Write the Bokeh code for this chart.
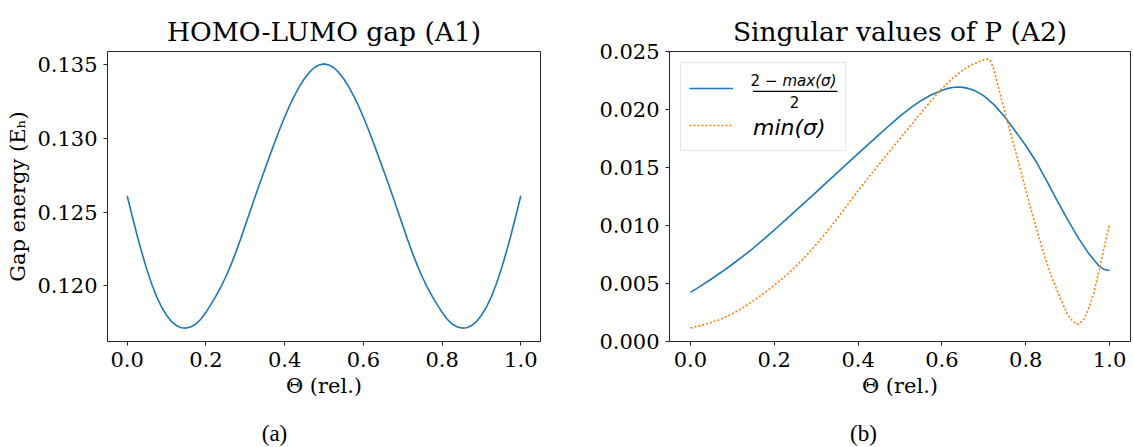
from bokeh.plotting import figure
from bokeh.models import (Range1d, FixedTicker, NumeralTickFormatter, Legend, LegendItem,
                          Label, BoxAnnotation)
from bokeh.layouts import row, column
from bokeh.core.properties import value
from bokeh.embed import file_html
from bokeh.resources import INLINE

# ---------------- data ----------------
theta_gap = [0.0000, 0.0125, 0.0250, 0.0375, 0.0500, 0.0625, 0.0750, 0.0875, 0.1000, 0.1125,
             0.1250, 0.1375, 0.1500, 0.1625, 0.1750, 0.1875, 0.2000, 0.2125, 0.2250, 0.2375,
             0.2500, 0.2625, 0.2750, 0.2875, 0.3000, 0.3125, 0.3250, 0.3375, 0.3500, 0.3625,
             0.3750, 0.3875, 0.4000, 0.4125, 0.4250, 0.4375, 0.4500, 0.4625, 0.4750, 0.4875,
             0.5000, 0.5125, 0.5250, 0.5375, 0.5500, 0.5625, 0.5750, 0.5875, 0.6000, 0.6125,
             0.6250, 0.6375, 0.6500, 0.6625, 0.6750, 0.6875, 0.7000, 0.7125, 0.7250, 0.7375,
             0.7500, 0.7625, 0.7750, 0.7875, 0.8000, 0.8125, 0.8250, 0.8375, 0.8500, 0.8625,
             0.8750, 0.8875, 0.9000, 0.9125, 0.9250, 0.9375, 0.9500, 0.9625, 0.9750, 0.9875, 1.0000]
gap_energy = [0.12611, 0.12475, 0.12345, 0.12222, 0.12110, 0.12010, 0.11925, 0.11855, 0.11800, 0.11758,
              0.11730, 0.11715, 0.11713, 0.11722, 0.11742, 0.11775, 0.11820, 0.11872, 0.11928, 0.11990,
              0.12058, 0.12135, 0.12220, 0.12312, 0.12410, 0.12508, 0.12605, 0.12700, 0.12793, 0.12885,
              0.12975, 0.13062, 0.13145, 0.13222, 0.13290, 0.13352, 0.13405, 0.13448, 0.13480, 0.13499,
              0.13506, 0.13499, 0.13480, 0.13448, 0.13405, 0.13352, 0.13290, 0.13222, 0.13145, 0.13062,
              0.12975, 0.12885, 0.12793, 0.12700, 0.12605, 0.12508, 0.12410, 0.12312, 0.12220, 0.12135,
              0.12058, 0.11990, 0.11928, 0.11872, 0.11820, 0.11775, 0.11742, 0.11722, 0.11713, 0.11715,
              0.11730, 0.11758, 0.11800, 0.11855, 0.11925, 0.12010, 0.12110, 0.12222, 0.12345, 0.12475, 0.12611]

theta_max = [0.000, 0.025, 0.050, 0.075, 0.100, 0.125, 0.150, 0.175, 0.200, 0.225,
             0.250, 0.275, 0.300, 0.325, 0.350, 0.375, 0.400, 0.425, 0.450, 0.475,
             0.500, 0.525, 0.550, 0.575, 0.600, 0.6125, 0.625, 0.6375, 0.650, 0.6625, 0.675, 0.6875,
             0.700, 0.725, 0.750, 0.775, 0.800, 0.825, 0.850, 0.875, 0.900, 0.925, 0.950, 0.975,
             0.9875, 1.000]
sigma_max_term = [0.00424, 0.00480, 0.00539, 0.00601, 0.00666, 0.00734, 0.00806, 0.00882, 0.00961, 0.01042,
                  0.01124, 0.01206, 0.01288, 0.01371, 0.01454, 0.01537, 0.01620, 0.01702, 0.01784, 0.01864,
                  0.01942, 0.02014, 0.02076, 0.02127, 0.02164, 0.02180, 0.02190, 0.02194, 0.02191, 0.02182,
                  0.02167, 0.02145, 0.02117, 0.02040, 0.01935, 0.01815, 0.01690, 0.01550, 0.01385, 0.01215,
                  0.01050, 0.00895, 0.00760, 0.00650, 0.00620, 0.00612]

theta_min = [0.000, 0.025, 0.050, 0.075, 0.100, 0.125, 0.150, 0.175, 0.200, 0.225,
             0.250, 0.275, 0.300, 0.325, 0.350, 0.375, 0.400, 0.425, 0.450, 0.475,
             0.500, 0.525, 0.550, 0.575, 0.600, 0.625, 0.650, 0.675, 0.690, 0.700,
             0.708, 0.715, 0.722, 0.730, 0.740, 0.750, 0.7625, 0.775, 0.7875, 0.800,
             0.8125, 0.825, 0.8375, 0.850, 0.8625, 0.875, 0.8875, 0.900, 0.9125, 0.925,
             0.9375, 0.950, 0.9625, 0.975, 0.9875, 1.000]
sigma_min = [0.00117, 0.00138, 0.00163, 0.00196, 0.00238, 0.00290, 0.00350, 0.00415, 0.00485, 0.00560,
             0.00643, 0.00735, 0.00835, 0.00945, 0.01060, 0.01180, 0.01300, 0.01415, 0.01528, 0.01640,
             0.01750, 0.01860, 0.01970, 0.02080, 0.02180, 0.02268, 0.02340, 0.02393, 0.02415, 0.02428,
             0.02436, 0.02425, 0.02370, 0.02260, 0.02120, 0.01980, 0.01815, 0.01648, 0.01480, 0.01310,
             0.01140, 0.00980, 0.00825, 0.00680, 0.00550, 0.00438, 0.00330, 0.00232, 0.00172, 0.00148,
             0.00182, 0.00280, 0.00420, 0.00610, 0.00815, 0.01010]

x_ticks = [0.0, 0.2, 0.4, 0.6, 0.8, 1.0]
y_ticks_a = [0.120, 0.125, 0.130, 0.135]
y_ticks_b = [0.000, 0.005, 0.010, 0.015, 0.020, 0.025]

BLUE = "#1f77b4"
ORANGE = "#ff7f0e"
SERIF = "DejaVu Serif"
FRAME = "#262626"


def style(p, yticks):
    p.grid.visible = False
    p.outline_line_color = FRAME
    p.outline_line_width = 1
    p.xaxis.ticker = FixedTicker(ticks=x_ticks)
    p.yaxis.ticker = FixedTicker(ticks=yticks)
    p.xaxis.formatter = NumeralTickFormatter(format="0.0")
    p.yaxis.formatter = NumeralTickFormatter(format="0.000")
    for ax in (p.xaxis, p.yaxis):
        ax.axis_line_color = None
        ax.major_tick_line_color = FRAME
        ax.major_tick_out = 4
        ax.major_tick_in = 0
        ax.minor_tick_line_color = None
        ax.major_label_text_font = SERIF
        ax.major_label_text_font_size = "21px"
        ax.major_label_text_color = "black"
        ax.axis_label_text_font = SERIF
        ax.axis_label_text_font_size = "21px"
        ax.axis_label_text_font_style = "normal"
        ax.axis_label_text_color = "black"
    p.yaxis.major_label_standoff = 6
    p.xaxis.major_label_standoff = 6
    p.xaxis.axis_label_standoff = 4
    p.yaxis.axis_label_standoff = 4
    p.xaxis.axis_label = "Θ (rel.)"
    p.title.text_font = SERIF
    p.title.text_font_size = "26.5px"
    p.title.text_font_style = "normal"
    p.title.text_color = "black"
    p.title.align = "center"
    p.title.standoff = 9


def caption_fig(width, text, x):
    c = figure(width=width, height=28, output_backend="svg", toolbar_location=None,
               x_axis_location=None, y_axis_location=None,
               x_range=Range1d(0, 1), y_range=Range1d(0, 1),
               min_border_left=0, min_border_right=0, min_border_top=0, min_border_bottom=0)
    c.outline_line_color = None
    c.grid.visible = False
    c.add_layout(Label(x=x, y=14, x_units="screen", y_units="screen", text=text,
                       text_align="center", text_baseline="middle",
                       text_font="Liberation Serif", text_font_size="23px", text_color="black"))
    return c


# ---------------- left panel ----------------
p1 = figure(width=560, height=419, x_range=Range1d(-0.05, 1.05), y_range=Range1d(0.11622, 0.1359),
            output_backend="svg", toolbar_location=None, title="HOMO-LUMO gap (A1)",
            min_border_left=107, min_border_right=20, min_border_top=51, min_border_bottom=78)
style(p1, y_ticks_a)
p1.yaxis.axis_label = "Gap energy (Eₕ)"
p1.line(theta_gap, gap_energy, line_color=BLUE, line_width=1.6)

# ---------------- right panel ----------------
p2 = figure(width=573, height=419, x_range=Range1d(-0.05, 1.05), y_range=Range1d(0.0, 0.025),
            output_backend="svg", toolbar_location=None, title="Singular values of P (A2)",
            min_border_left=109, min_border_right=3, min_border_top=51, min_border_bottom=78)
style(p2, y_ticks_b)
r_max = p2.line(theta_max, sigma_max_term, line_color=BLUE, line_width=1.6)
r_min = p2.line(theta_min, sigma_min, line_color=ORANGE, line_width=1.6, line_dash="2 2")

legend = Legend(items=[LegendItem(label=value(" "), renderers=[r_max]),
                       LegendItem(label=value(" "), renderers=[r_min])],
                location="top_left", margin=11, padding=8, spacing=3,
                glyph_width=44, glyph_height=20, label_width=86, label_height=34,
                label_standoff=18, label_text_font_size="10px",
                border_line_color="#cccccc", border_line_width=1,
                background_fill_color="white", background_fill_alpha=0.0)
p2.add_layout(legend)

MATH = "DejaVu Sans"
p2.add_layout(Label(x=108, y=260.5, x_units="screen", y_units="screen", text="2 −",
                    text_align="right", text_baseline="middle", text_font=MATH,
                    text_font_size="15px", text_color="black", level="overlay"))
p2.add_layout(Label(x=113, y=260.5, x_units="screen", y_units="screen", text="max(σ)",
                    text_align="left", text_baseline="middle", text_font=MATH,
                    text_font_style="italic", text_font_size="15px", text_color="black",
                    level="overlay"))
p2.add_layout(BoxAnnotation(left=83.5, right=168, bottom=249.5, top=250.7,
                            left_units="screen", right_units="screen",
                            bottom_units="screen", top_units="screen",
                            fill_color="black", fill_alpha=1, line_color=None, level="overlay"))
p2.add_layout(Label(x=125, y=240, x_units="screen", y_units="screen", text="2",
                    text_align="center", text_baseline="middle", text_font=MATH,
                    text_font_size="15px", text_color="black", level="overlay"))
p2.add_layout(Label(x=83.5, y=214, x_units="screen", y_units="screen", text="min(σ)",
                    text_align="left", text_baseline="middle", text_font=MATH,
                    text_font_style="italic", text_font_size="22px", text_color="black",
                    level="overlay"))

c1 = caption_fig(560, "(a)", 274)
c2 = caption_fig(573, "(b)", 303)

layout = column(row(p1, p2), row(c1, c2))
open("out.html", "w").write(file_html(layout, INLINE))
